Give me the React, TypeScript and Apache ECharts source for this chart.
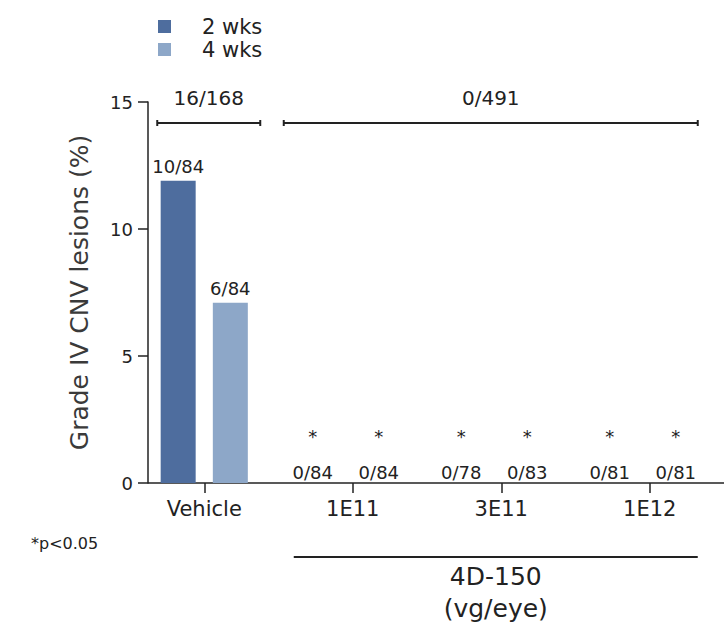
import React, { useEffect, useRef } from "react";
import * as echarts from "echarts";

const categories = ["Vehicle", "1E11", "3E11", "1E12"];
const values2wks = [11.9, 0, 0, 0];
const values4wks = [7.1, 0, 0, 0];
const labels2wks = ["10/84", "0/84", "0/78", "0/81"];
const labels4wks = ["6/84", "0/84", "0/83", "0/81"];
const significant = [false, true, true, true];
const bracketLabels = ["16/168", "0/491"];
const yTickValues = [0, 5, 10, 15];
const seriesNames = ["2 wks", "4 wks"];
const groupTitle = ["4D-150", "(vg/eye)"];
const footnote = "*p<0.05";

const FONT = "DejaVu Sans";
const DARK = "#4e6d9e";
const LIGHT = "#8da7c8";
const INK = "#222";

function buildData(values: number[], labels: string[], zeroOffset: number) {
  return values.map((v, i) => ({
    value: v,
    label: {
      formatter: significant[i] ? `{s|*}\n{v|${labels[i]}}` : `{v|${labels[i]}}`,
      distance: v === 0 ? 1 : 4,
      offset: v === 0 ? [zeroOffset, 0] : [0, 0],
    },
  }));
}

export default function App() {
  const ref = useRef<HTMLDivElement>(null);
  useEffect(() => {
    if (!ref.current) return;
    const chart = echarts.init(ref.current, null, { renderer: "svg" });
    const labelCommon = {
      show: true,
      position: "top" as const,
      color: INK,
      fontFamily: FONT,
      rich: {
        s: { fontSize: 18, lineHeight: 52, color: INK, fontFamily: FONT },
        v: { fontSize: 18, lineHeight: 20, color: INK, fontFamily: FONT },
      },
    };
    chart.setOption({
      animation: false,
      backgroundColor: "#fff",
      legend: {
        orient: "vertical",
        left: 153,
        top: 11,
        itemWidth: 13,
        itemHeight: 13,
        itemGap: 2,
        icon: "rect",
        data: seriesNames,
        textStyle: {
          fontFamily: FONT,
          fontSize: 21,
          lineHeight: 21,
          color: INK,
          padding: [0, 0, 0, 26],
        },
      },
      grid: { left: 130, right: -22, top: 102, bottom: 140, containLabel: false },
      xAxis: {
        type: "category",
        data: categories,
        axisLine: { show: false },
        axisTick: {
          show: true,
          alignWithLabel: true,
          length: 10,
          lineStyle: { color: INK, width: 1.5 },
        },
        axisLabel: { fontFamily: FONT, fontSize: 21, color: INK, margin: 15 },
      },
      yAxis: {
        type: "value",
        min: 0,
        max: 15,
        interval: 5,
        offset: -18,
        name: "Grade IV CNV lesions (%)",
        nameLocation: "middle",
        nameGap: 56,
        nameTextStyle: { fontFamily: FONT, fontSize: 25, color: "#3a3a3a" },
        axisLine: { show: true, lineStyle: { color: INK, width: 1.5 } },
        axisTick: { show: true, length: 10, lineStyle: { color: INK, width: 1.5 } },
        axisLabel: {
          fontFamily: FONT,
          fontSize: 18,
          color: INK,
          margin: 15,
          customValues: yTickValues,
        },
        splitLine: { show: false },
      },
      series: [
        {
          name: seriesNames[0],
          type: "bar",
          barWidth: 35,
          barGap: "49%",
          itemStyle: { color: DARK },
          data: buildData(values2wks, labels2wks, -14),
          label: labelCommon,
        },
        {
          name: seriesNames[1],
          type: "bar",
          barWidth: 35,
          barGap: "49%",
          itemStyle: { color: LIGHT },
          data: buildData(values4wks, labels4wks, 0),
          label: labelCommon,
        },
      ],
    });

    const y0 = chart.convertToPixel({ yAxisIndex: 0 }, 0) as number;
    const yTop = chart.convertToPixel({ yAxisIndex: 0 }, 15) as number;
    const cx = categories.map((c) => chart.convertToPixel({ xAxisIndex: 0 }, c) as number);
    const axisX = 148;
    const W = 724;
    const bracketY = yTop + 21;
    const lineStyle = { stroke: INK, lineWidth: 2 };
    const bracket = (x1: number, x2: number, y: number) => [
      { type: "line", shape: { x1, y1: y, x2, y2: y }, style: lineStyle },
      { type: "line", shape: { x1, y1: y - 3, x2: x1, y2: y + 3 }, style: lineStyle },
      { type: "line", shape: { x1: x2, y1: y - 3, x2, y2: y + 3 }, style: lineStyle },
    ];
    const text = (t: string, x: number, y: number, size: number, align = "center") => ({
      type: "text",
      x,
      y,
      style: {
        text: t,
        fontFamily: FONT,
        fontSize: size,
        fill: INK,
        align,
        verticalAlign: "middle",
      },
    });
    const lb = [cx[0] - 47, cx[0] + 56];
    const rb = [cx[1] - 69, cx[3] + 48];
    chart.setOption({
      graphic: [
        { type: "line", shape: { x1: axisX, y1: y0, x2: W, y2: y0 }, style: { stroke: INK, lineWidth: 1.5 } },
        ...bracket(lb[0], lb[1], bracketY),
        ...bracket(rb[0], rb[1], bracketY),
        text(bracketLabels[0], (lb[0] + lb[1]) / 2, bracketY - 25, 20),
        text(bracketLabels[1], (rb[0] + rb[1]) / 2, bracketY - 25, 20),
        { type: "line", shape: { x1: cx[1] - 59, y1: y0 + 74, x2: cx[3] + 48, y2: y0 + 74 }, style: lineStyle },
        text(groupTitle[0], (cx[1] - 59 + cx[3] + 48) / 2, y0 + 93, 25),
        text(groupTitle[1], (cx[1] - 59 + cx[3] + 48) / 2, y0 + 125, 25),
        text(footnote, 31, y0 + 60, 16, "left"),
      ],
    });
    return () => chart.dispose();
  }, []);
  return (
    <div
      ref={ref}
      style={{ position: "fixed", left: 0, top: 0, width: 724, height: 623 }}
    />
  );
}
